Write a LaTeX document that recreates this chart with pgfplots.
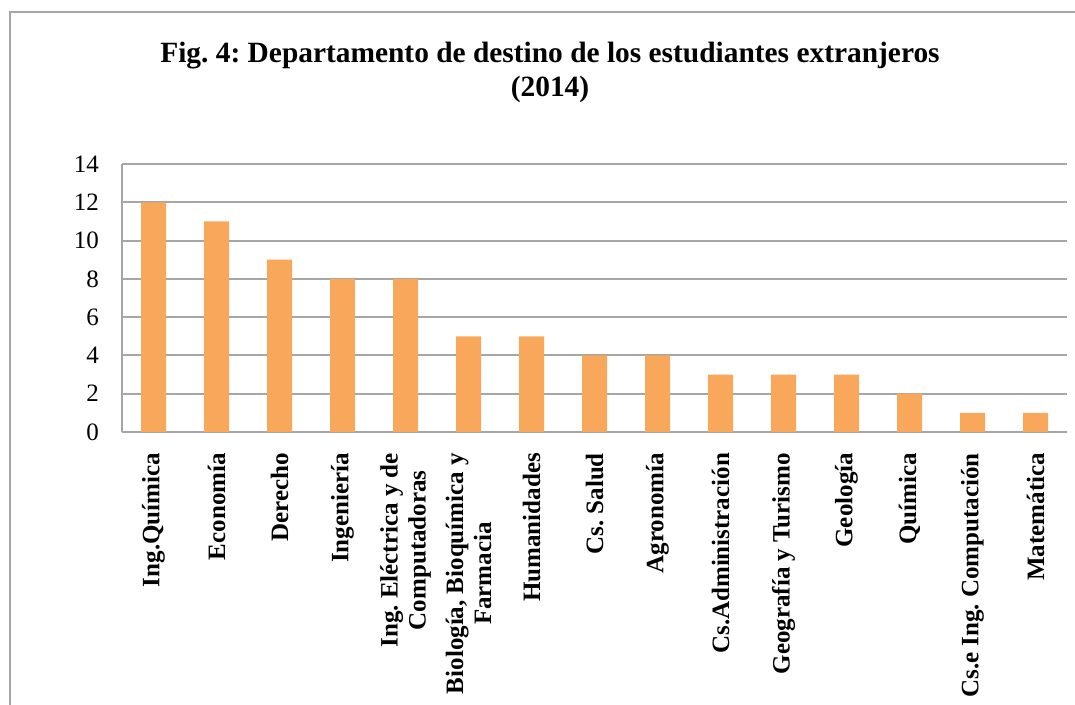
\documentclass[border=0pt]{standalone}
\usepackage{fontspec}
\setmainfont{Liberation Serif}
\usepackage{pgfplots}
\pgfplotsset{compat=1.18}
\definecolor{barorange}{HTML}{F9A75A}
\definecolor{gridgray}{HTML}{A6A6A6}
\begin{document}
\frenchspacing
\begin{tikzpicture}
  % 1 px of the reference = 0.5pt
  \path[use as bounding box] (0pt,0pt) rectangle (537.5pt,352.5pt);
  % outer chart frame (runs off the right and bottom edge)
  \draw[gridgray, line width=1pt] (5pt,346.5pt) rectangle (570pt,-30pt);
  \node[align=center, font=\fontsize{14.7}{17}\selectfont\bfseries] at (275pt,316.5pt)
    {Fig. 4: Departamento de destino de los estudiantes extranjeros\\(2014)};
  \begin{axis}[
      at={(61pt,136.5pt)}, anchor=south west,
      width=472.5pt, height=134pt, scale only axis,
      ybar, bar width=12.5pt,
      xmin=-0.5, xmax=14.5,
      ymin=0, ymax=14,
      ytick={0,2,...,14},
      xtick={0,...,14},
      xticklabels={Ing.Química, Economía, Derecho, Ingeniería,
        {Ing. Eléctrica y de\\Computadoras}, {Biología, Bioquímica y\\Farmacia},
        Humanidades, Cs. Salud, Agronomía, Cs.Administración,
        Geografía y Turismo, Geología, Química, Cs.e Ing. Computación, Matemática},
      axis x line*=bottom, axis y line*=left,
      axis line style={gridgray, line width=1pt},
      ymajorgrids, grid style={gridgray, line width=1pt},
      major tick length=0pt,
      /pgf/number format/assume math mode=true,
      ticklabel style={font=\fontsize{12.5}{14.5}\selectfont},
      xticklabel style={rotate=90, anchor=east, align=center, font=\fontsize{12.5}{14}\selectfont\bfseries},
      xticklabel shift=7pt,
      yticklabel shift=8pt,
    ]
    \addplot[fill=barorange, draw=none] coordinates {
      (0,12) (1,11) (2,9) (3,8) (4,8) (5,5) (6,5) (7,4)
      (8,4) (9,3) (10,3) (11,3) (12,2) (13,1) (14,1)
    };
  \end{axis}
\end{tikzpicture}
\end{document}
